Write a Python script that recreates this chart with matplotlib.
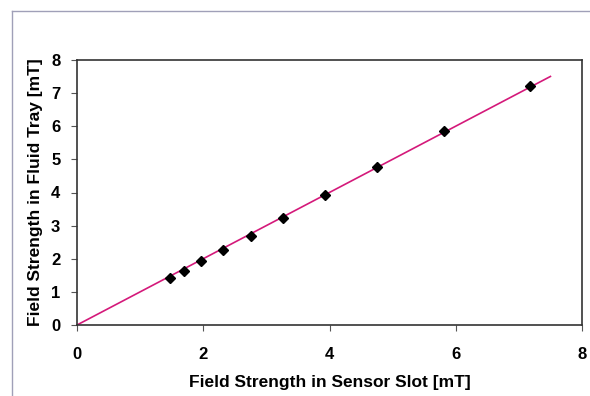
import numpy as np
import matplotlib
matplotlib.use("Agg")
import matplotlib.pyplot as plt
from matplotlib.lines import Line2D

# Data
sensor_slot = [1.47, 1.70, 1.97, 2.31, 2.75, 3.27, 3.93, 4.76, 5.82, 7.18]
fluid_tray = [1.41, 1.63, 1.94, 2.27, 2.70, 3.23, 3.93, 4.77, 5.87, 7.23]
trend_x = [0.0, 7.5]
x_ticks = [0, 2, 4, 6, 8]
y_ticks = [0, 1, 2, 3, 4, 5, 6, 7, 8]

plt.rcParams['font.family'] = ['Liberation Sans', 'DejaVu Sans']

fig = plt.figure(figsize=(5.90, 3.96), dpi=100)
fig.patch.set_facecolor('white')
ax = fig.add_axes([77/590, 1-325/396, 505/590, 265/396])

# trendline through origin (least squares fit)
xs = np.array(sensor_slot)
ys = np.array(fluid_tray)
slope = np.sum(xs*ys)/np.sum(xs*xs)
tx = np.array(trend_x)
ax.plot(tx, slope*tx, color='#d4197a', lw=1.2, zorder=2)
ax.plot(sensor_slot, fluid_tray, linestyle='none', marker='D', ms=5,
        color='black', zorder=3)

ax.set_xlim(0, 8)
ax.set_ylim(0, 8)
ax.set_xticks(x_ticks)
ax.set_yticks(y_ticks)
ax.set_xticklabels([str(v) for v in x_ticks], fontsize=12, fontweight='bold')
ax.set_yticklabels([str(v) for v in y_ticks], fontsize=12, fontweight='bold')
ax.tick_params(axis='x', length=4, width=0.8, color='#555555', pad=12)
ax.tick_params(axis='y', length=4, width=0.8, color='#555555', pad=8)
for s in ax.spines.values():
    s.set_color('#333333')
    s.set_linewidth(1.2)

ax.set_xlabel('Field Strength in Sensor Slot [mT]', fontsize=12.5, fontweight='bold', va='center')
ax.set_ylabel('Field Strength in Fluid Tray [mT]', fontsize=12.5, fontweight='bold', va='center')
ax.xaxis.set_label_coords(0.5, (325-383)/265)
ax.yaxis.set_label_coords((36-77)/505, 0.5)

# outer scanned frame
fig.add_artist(Line2D([12/590, 1.0], [1-11/396, 1-11/396], color='#a0a0b8', lw=1.0))
fig.add_artist(Line2D([12/590, 12/590], [0.0, 1-11/396], color='#a0a0b8', lw=1.0))

fig.savefig('out.png', dpi=100, facecolor='white')
